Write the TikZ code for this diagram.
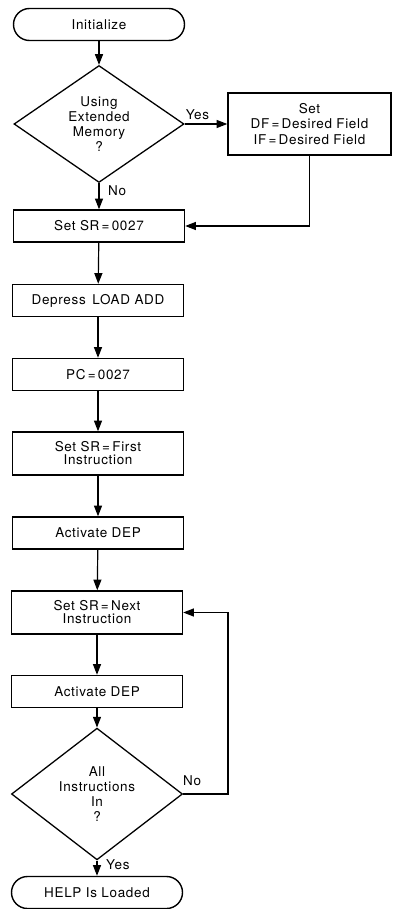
\documentclass[tikz,border=0pt]{standalone}
\usepackage{fontspec}
\setmainfont{TeX Gyre Heros}[LetterSpace=5]
\usetikzlibrary{shapes.geometric,arrows.meta}
\begin{document}
\begin{tikzpicture}[x=0.03cm, y=-0.03cm, font=\fontsize{11.5}{13}\selectfont]

    \tikzset{block/.style={%
      draw,%
      rectangle,%
      line width=1.2pt,%
      align=center,%
      minimum width=5.13cm,%
      minimum height=0.96cm}%
    };
    \tikzset{term/.style={%
      block,%
      rounded corners=0.48cm}%
    };
    \tikzset{decide/.style={%
      draw,%
      diamond,%
      line width=1.1pt,%
      align=center,%
      inner sep=0pt,%
      minimum width=5.1cm,%
      minimum height=2.94cm}%
    };
    \tikzset{flow/.style={line width=1pt, -{Triangle[length=0.32cm, width=0.24cm]}}};

    \useasboundingbox (0, 0) rectangle (393, 909);

    %%%%%%%%%%%%%%%%%
    % setting up    %
    %%%%%%%%%%%%%%%%%
    \node[term] (init) at (99, 24.5) {Initialize};

    \node[decide] (extmem) at (99, 124) {Using\\Extended\\Memory\\?};

    \node[block, minimum width=4.89cm, minimum height=1.86cm] (field) at (309.5, 124) {
      Set\\DF\,=\,Desired Field\\IF\,=\,Desired Field
    };

    \node[block] (sr) at (99, 226) {Set SR\,=\,0027};

    \node[block] (loadadd) at (98, 300.5) {Depress\, LOAD ADD};

    \node[block] (pc) at (98, 374.5) {PC\,=\,0027};

    %%%%%%%%%%%%%%%%%
    % depositing    %
    %%%%%%%%%%%%%%%%%
    \node[block, minimum height=1.29cm] (first) at (98, 453.5) {Set SR\,=\,First\\[-2pt]Instruction};

    \node[block] (dep) at (98, 533) {Activate DEP};

    \node[block, minimum height=1.29cm] (next) at (97, 612.5) {Set SR\,=\,Next\\[-2pt]Instruction};

    \node[block] (depnext) at (97, 691.5) {Activate DEP};

    \node[decide, minimum width=5.13cm, minimum height=2.91cm] (allin) at (97, 794) {All\\Instructions\\In\\?};

    \node[term] (loaded) at (97, 892.5) {HELP Is Loaded};

    \coordinate (loop) at (228, 794);

    \draw [flow] (init) -- (extmem);
    \draw [flow] (extmem) -- node[pos=0.3, right, xshift=4pt] (no1) {No} (sr);
    \draw [flow] (extmem) -- node[pos=0.3, above] (yes1) {Yes} (field);
    \draw [flow] (field.south) |- (sr.east);
    \draw [flow] (sr) -- (loadadd);
    \draw [flow] (loadadd) -- (pc);
    \draw [flow] (pc) -- (first);
    \draw [flow] (first) -- (dep);
    \draw [flow] (dep) -- (next);
    \draw [flow] (next) -- (depnext);
    \draw [flow] (depnext) -- (allin);
    \draw [flow] (allin) -- node[pos=0.3, right, xshift=4pt] (yes2) {Yes} (loaded);
    \draw [flow] (allin.east) -- node[pos=0.2, above, yshift=3pt] (no2) {No} (loop) |- (next.east);

  \end{tikzpicture}
\end{document}
